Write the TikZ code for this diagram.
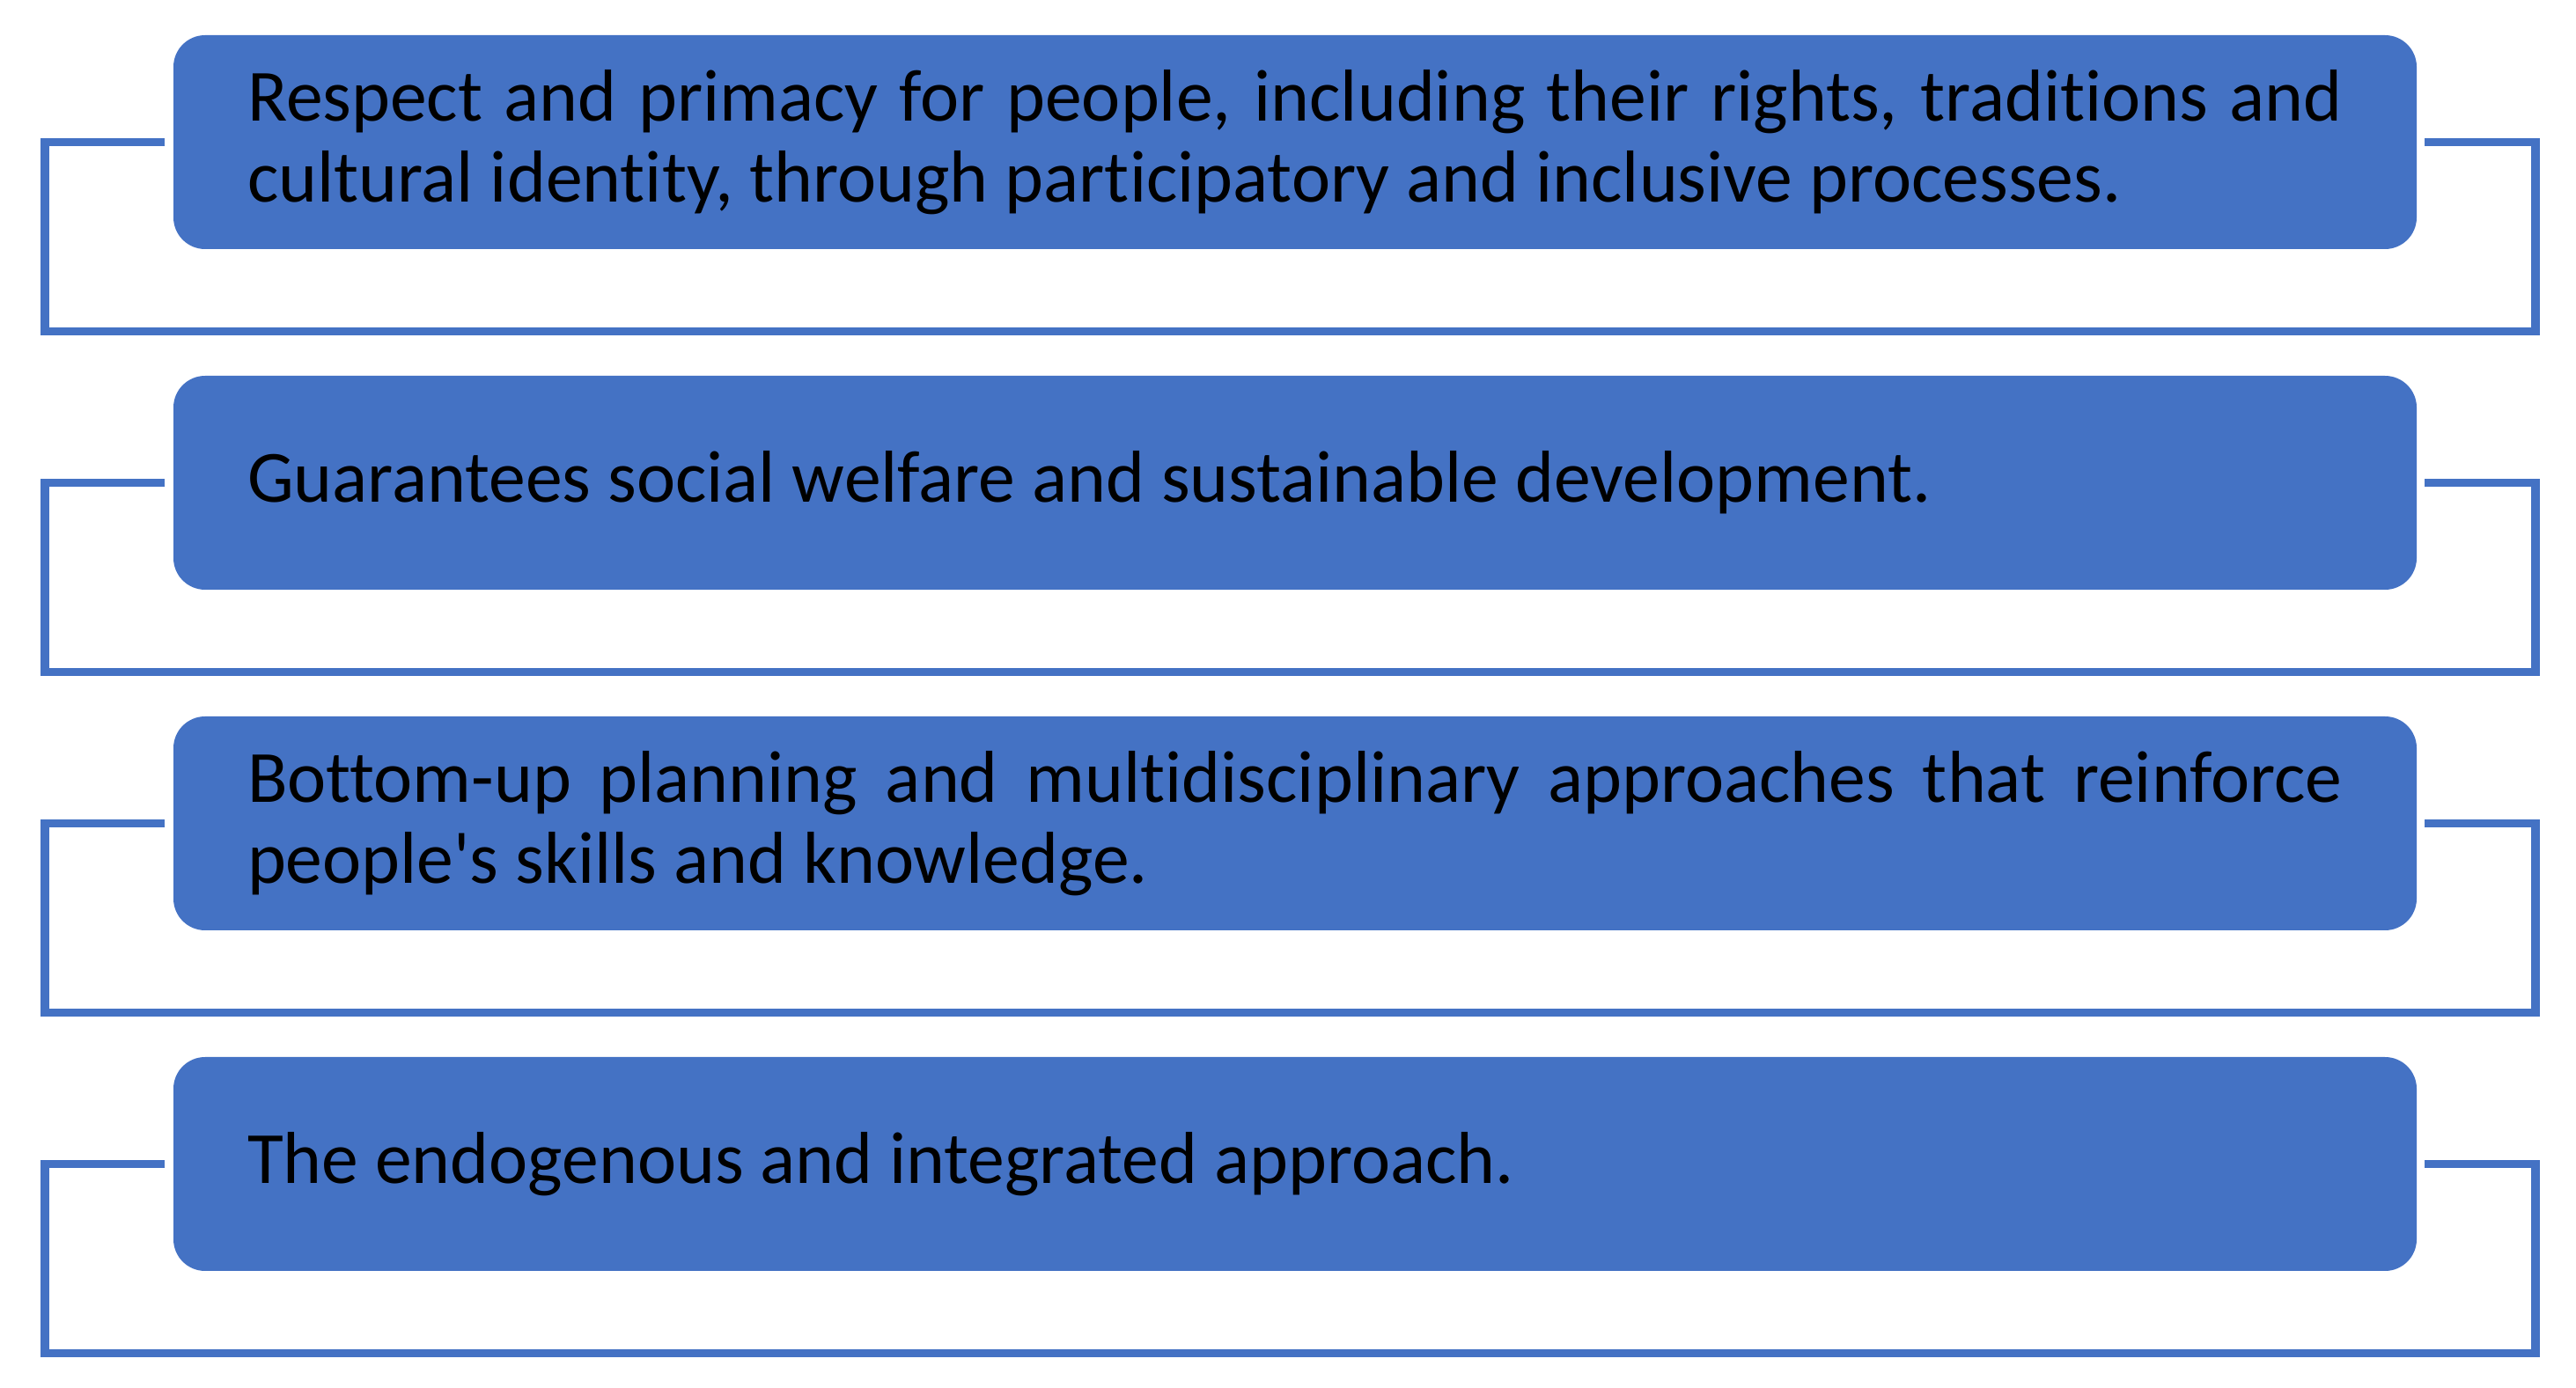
\documentclass[tikz,border=0pt]{standalone}
\usepackage{fontspec}
\setmainfont{Carlito}[Ligatures={NoCommon,TeXOff}]
\definecolor{officeblue}{HTML}{4472C4}
\tikzset{
  item/.style={fill=officeblue, rounded corners=0.36cm, minimum width=25.48cm,
    minimum height=2.43cm, text width=23.80cm, inner xsep=0.84cm, inner ysep=0pt,
    align=justify, font=\fontsize{23.8pt}{26.2pt}\selectfont},
  frame/.style={draw=officeblue, line width=0.095cm, line join=miter}
}
\begin{document}
\begin{tikzpicture}
                \useasboundingbox (0,0) rectangle (29.26,-15.77);

                \node[item] (respect) at (14.71,-1.615) {Respect and primacy for people, including their rights, traditions and\linebreak cultural identity, through participatory and inclusive processes.};
                \node[item] (welfare) at (14.71,-5.485) {Guarantees social welfare and sustainable development.};
                \node[item] (bottomup) at (14.71,-9.355) {Bottom-up planning and multidisciplinary approaches that reinforce\linebreak people's skills and knowledge.};
                \node[item] (endogenous) at (14.71,-13.225) {The endogenous and integrated approach.};

                \draw[frame] ([xshift=-0.09cm]respect.west) -- ++(-1.365,0) -- ++(0,-2.15) -- ++(28.29,0) -- ++(0,2.15) -- ++(-1.255,0);
                \draw[frame] ([xshift=-0.09cm]welfare.west) -- ++(-1.365,0) -- ++(0,-2.15) -- ++(28.29,0) -- ++(0,2.15) -- ++(-1.255,0);
                \draw[frame] ([xshift=-0.09cm]bottomup.west) -- ++(-1.365,0) -- ++(0,-2.15) -- ++(28.29,0) -- ++(0,2.15) -- ++(-1.255,0);
                \draw[frame] ([xshift=-0.09cm]endogenous.west) -- ++(-1.365,0) -- ++(0,-2.15) -- ++(28.29,0) -- ++(0,2.15) -- ++(-1.255,0);
            \end{tikzpicture}
\end{document}
